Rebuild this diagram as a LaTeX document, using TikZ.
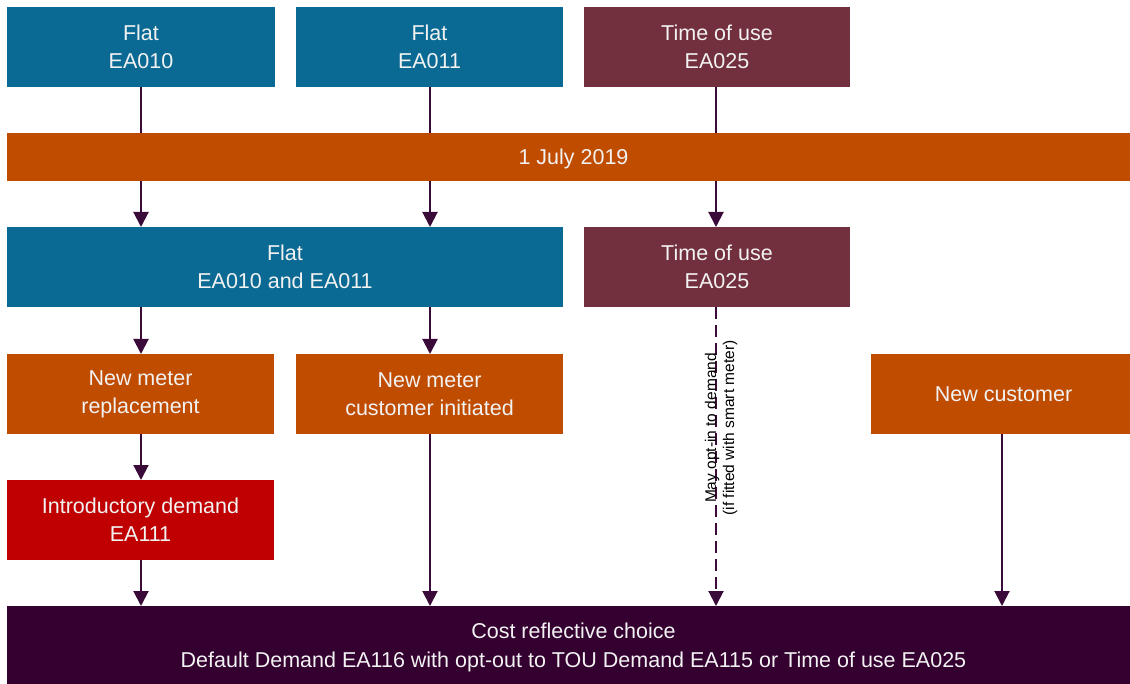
\documentclass[tikz,border=0pt]{standalone}
\usepackage{fontspec}
\setmainfont{Liberation Sans}
\usetikzlibrary{arrows.meta,backgrounds}
\definecolor{cteal}{HTML}{0A6A94}
\definecolor{cmaroon}{HTML}{722F3D}
\definecolor{corange}{HTML}{C04C00}
\definecolor{cred}{HTML}{C00000}
\definecolor{cpurple}{HTML}{330030}
\definecolor{carrow}{HTML}{3A0A38}
\definecolor{ctext}{HTML}{F2F2F2}
\tikzset{
  box/.style={draw=none, inner sep=0pt, outer sep=0pt, align=center, text=ctext,
    font=\fontsize{21.5}{28}\selectfont, minimum height=80pt},
  conn/.style={draw=carrow, line width=2pt, -{Triangle[width=15pt,length=15pt]}},
  dconn/.style={conn, dash pattern=on 12pt off 6pt},
}
\begin{document}
\begin{tikzpicture}[x=1pt,y=-1pt]
\useasboundingbox (0,0) rectangle (1130,684);
\node[box, fill=cteal, minimum width=268pt] (a1) at (141,47) {Flat\\EA010};
\node[box, fill=cteal, minimum width=267pt] (a2) at (429.5,47) {Flat\\EA011};
\node[box, fill=cmaroon, minimum width=266pt] (a3) at (717,47) {Time of use\\EA025};
\node[box, fill=corange, minimum width=1133pt, minimum height=48pt, text depth=0pt] (date) at (573.5,157) {1 July 2019};
\node[box, fill=cteal, minimum width=556pt] (b1) at (285,267) {Flat\\EA010 and EA011};
\node[box, fill=cmaroon, minimum width=266pt] (b2) at (717,267) {Time of use\\EA025};
\node[box, fill=corange, minimum width=267pt] (c1) at (140.5,394) {New meter\\replacement};
\node[box, fill=corange, minimum width=267pt] (c2) at (429.5,394) {New meter\\customer initiated};
\node[box, fill=corange, minimum width=265pt] (c3) at (1003.5,394) {New customer};
\node[box, fill=cred, minimum width=267pt] (d1) at (140.5,520) {Introductory demand\\EA111};
\node[box, fill=cpurple, minimum width=1133pt, minimum height=78pt] (e) at (573.5,645) {\rule{0pt}{21pt}Cost reflective choice\\[1pt]Default Demand EA116 with opt-out to TOU Demand EA115 or Time of use EA025};
\coordinate (x1) at (141,0);
\coordinate (x2) at (430,0);
\coordinate (x3) at (716,0);
\coordinate (x4) at (1002,0);
\begin{scope}[on background layer]
\draw[conn] (x1 |- a1.south) -- (x1 |- b1.north);
\draw[conn] (x2 |- a2.south) -- (x2 |- b1.north);
\draw[conn] (x3 |- a3.south) -- (x3 |- b2.north);
\end{scope}
\draw[conn] (x1 |- b1.south) -- (x1 |- c1.north);
\draw[conn] (x2 |- b1.south) -- (x2 |- c2.north);
\draw[conn] (x1 |- c1.south) -- (x1 |- d1.north);
\draw[conn] (x1 |- d1.south) -- (x1 |- e.north);
\draw[conn] (x2 |- c2.south) -- (x2 |- e.north);
\draw[dconn] (x3 |- b2.south) -- (x3 |- e.north);
\draw[conn] (x4 |- c3.south) -- (x4 |- e.north);
\node[rotate=90, align=center, inner sep=0pt, font=\fontsize{15.5}{18}\selectfont, text=black] (lbl) at (721,428) {May opt-in to demand\\(if fitted with smart meter)};
\end{tikzpicture}
\end{document}
